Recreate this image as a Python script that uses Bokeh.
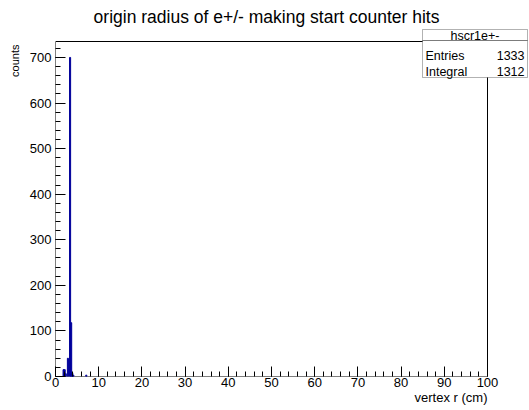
import math
from bokeh.plotting import figure
from bokeh.models import Label, PolyAnnotation, FixedTicker, Range1d, Title
from bokeh.embed import file_html
from bokeh.resources import INLINE

# ---- data ----
bin_left = [1.75, 2.0, 2.25, 2.75, 3.25, 3.5, 3.75, 4.0, 7.0]
bin_width = 0.25
counts = [15, 15, 6, 40, 700, 118, 8, 3, 3]
title_text = "origin radius of e+/- making start counter hits"
x_label = "vertex r (cm)"
y_label = "counts"
stats_name = "hscr1e+-"
stats_rows = [("Entries", "1333"), ("Integral", "1312")]
x_ticks = list(range(0, 101, 10))
x_minor = list(range(0, 101, 2))
y_ticks = list(range(0, 701, 100))
y_minor = list(range(0, 721, 20))
x_max = 100
y_max = 735

# ---- layout (figure pixels) ----
W, H = 529, 410
BL, BB = 55, 34            # frame starts at left border, ends above bottom border
AX_TOP = 41                 # top of the histogram box in figure pixels
AX_W = 432                  # pixel width of the histogram box
AX_H = H - BB - AX_TOP      # pixel height of the histogram box
FONT = "Liberation Sans"

frame_w = W - BL
frame_h = H - BB
x_end = x_max * frame_w / AX_W
y_end = y_max * frame_h / AX_H

p = figure(width=W, height=H, output_backend="svg", toolbar_location=None,
           x_range=Range1d(0, x_end), y_range=Range1d(0, y_end),
           min_border_left=BL, min_border_right=0, min_border_top=0,
           min_border_bottom=BB)
p.grid.visible = False
p.outline_line_color = None
p.background_fill_color = "white"
p.border_fill_color = "white"

def px2x(px):
    return (px - BL) / AX_W * x_max

def px2y(py):
    return (H - BB - py) / AX_H * y_max

# histogram box
p.quad(left=[0], right=[x_max], bottom=[0], top=[y_max], fill_color=None,
       line_color="black", line_width=1)

bin_right = [b + bin_width for b in bin_left]
p.quad(left=bin_left, right=bin_right, bottom=0, top=counts,
       fill_color="#0000b0", line_color="#000099", line_width=1)

p.xaxis[0].ticker = FixedTicker(ticks=x_ticks, minor_ticks=x_minor)
p.yaxis[0].ticker = FixedTicker(ticks=y_ticks, minor_ticks=y_minor)
for ax in (p.xaxis[0], p.yaxis[0]):
    ax.major_tick_in = 10
    ax.major_tick_out = 0
    ax.minor_tick_in = 5
    ax.minor_tick_out = 0
    ax.axis_line_color = None
    ax.major_tick_line_color = "black"
    ax.minor_tick_line_color = "black"
    ax.major_label_text_font = FONT
    ax.major_label_text_font_size = "13px"
    ax.major_label_text_color = "black"
p.xaxis.major_label_standoff = 1
p.yaxis.major_label_standoff = 4

# axis titles in side panels
p.add_layout(Title(text=y_label, align="right", offset=AX_TOP + 3, standoff=11,
                   text_font=FONT, text_font_size="11px", text_font_style="normal",
                   text_color="black"), "left")
p.add_layout(Title(text=x_label, align="right", offset=W - BL - AX_W, standoff=-3,
                   text_font=FONT, text_font_size="13px", text_font_style="normal",
                   text_color="black"), "below")

def lab(x, y, text, align="left", size="12.5px"):
    return Label(x=px2x(x), y=px2y(y), text=text, text_align=align,
                 text_baseline="middle", text_font=FONT, text_font_size=size,
                 text_color="black")

# main title
p.add_layout(lab(266, 16, title_text, "center", "17.5px"))

# stats box
bx0, bx1 = 422, 527
by0, by1, byh = 29, 77, 40
p.add_layout(PolyAnnotation(xs=[px2x(bx0), px2x(bx1), px2x(bx1), px2x(bx0)],
                            ys=[px2y(by0), px2y(by0), px2y(by1), px2y(by1)],
                            fill_color="white", fill_alpha=1,
                            line_color="black", line_width=1))
p.add_layout(PolyAnnotation(xs=[px2x(bx0), px2x(bx1), px2x(bx1), px2x(bx0)],
                            ys=[px2y(byh)] * 4, fill_alpha=0,
                            line_color="black", line_width=1))
p.add_layout(lab((bx0 + bx1) / 2, 35, stats_name, "center"))
for i, (k, v) in enumerate(stats_rows):
    yc = 55 + 16 * i
    p.add_layout(lab(bx0 + 3, yc, k, "left"))
    p.add_layout(lab(bx1 - 3, yc, v, "right"))

open("out.html", "w").write(file_html(p, INLINE))
